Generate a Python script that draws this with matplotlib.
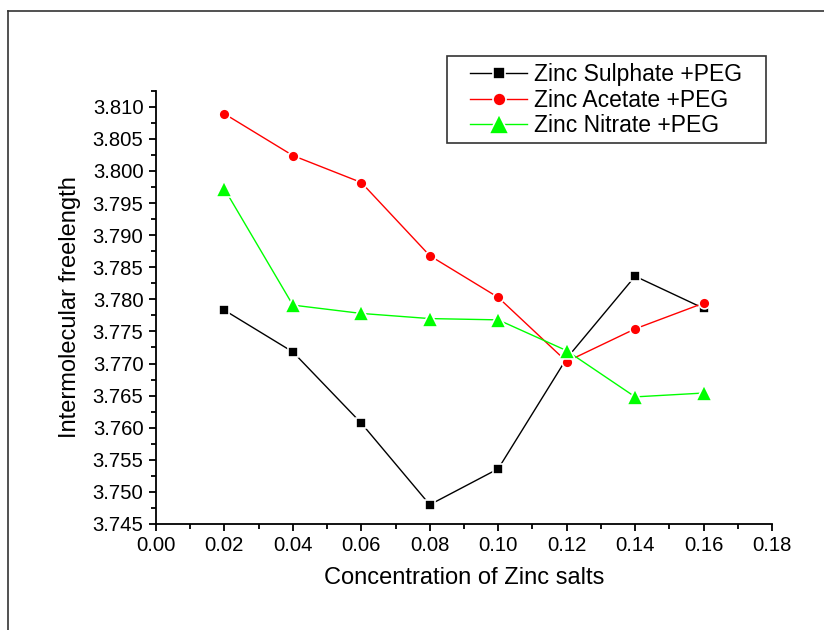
import matplotlib
matplotlib.use("Agg")
import matplotlib.pyplot as plt
from matplotlib.lines import Line2D
from matplotlib.patches import Rectangle
from matplotlib.ticker import MultipleLocator, FormatStrFormatter

plt.rcParams['font.family'] = ['Liberation Sans', 'DejaVu Sans']

conc = [0.02, 0.04, 0.06, 0.08, 0.10, 0.12, 0.14, 0.16]
sulphate = [3.7783, 3.7718, 3.7607, 3.7480, 3.7536, 3.7708, 3.7836, 3.7786]
acetate = [3.8089, 3.8024, 3.7982, 3.7868, 3.7803, 3.7703, 3.7754, 3.7794]
nitrate = [3.7972, 3.7791, 3.7778, 3.7770, 3.7768, 3.7720, 3.7648, 3.7654]
labels = ["Zinc Sulphate +PEG", "Zinc Acetate +PEG", "Zinc Nitrate +PEG"]

W, H = 824, 630
fig = plt.figure(figsize=(W/100, H/100), dpi=100)
ax = fig.add_axes([0.1893, 0.1683, 0.7476, 0.6877])

ax.plot(conc, sulphate, color='black', lw=1, marker='s', ms=6.8,
        mfc='black', mec='white', mew=1.2, label=labels[0])
ax.plot(conc, acetate, color='#ff0000', lw=1, marker='o', ms=7.8,
        mfc='#ff0000', mec='white', mew=1.2, label=labels[1])
ax.plot(conc, nitrate, color='#00ff00', lw=1, marker='^', ms=11.5,
        mfc='#00ff00', mec='white', mew=1.2, label=labels[2])

ax.set_xlim(0, 0.18)
ax.set_ylim(3.745, 3.8125)
ax.xaxis.set_major_locator(MultipleLocator(0.02))
ax.xaxis.set_minor_locator(MultipleLocator(0.01))
ax.yaxis.set_major_locator(MultipleLocator(0.005))
ax.yaxis.set_minor_locator(MultipleLocator(0.0025))
ax.xaxis.set_major_formatter(FormatStrFormatter('%.2f'))
ax.yaxis.set_major_formatter(FormatStrFormatter('%.3f'))

for s in ['top', 'right']:
    ax.spines[s].set_visible(False)
for s in ['left', 'bottom']:
    ax.spines[s].set_linewidth(1.3)
ax.tick_params(which='major', direction='out', length=5, width=1.3,
               labelsize=14.6, pad=4)
ax.tick_params(which='minor', direction='out', length=3.5, width=1.3)

ax.set_xlabel("Concentration of Zinc salts", fontsize=17, labelpad=8)
ax.set_ylabel("Intermolecular freelength", fontsize=17, labelpad=8)

leg = ax.legend(loc='upper left', bbox_to_anchor=(470/W, 1-63/H),
                bbox_transform=fig.transFigure, fontsize=16.5, frameon=False,
                handlelength=2.5, handletextpad=0.3, borderpad=0,
                labelspacing=0.11, borderaxespad=0, markerscale=1.2)

# legend frame
fig.add_artist(Rectangle((447/W, 1-143/H), (766-447)/W, (143-56)/H,
                         transform=fig.transFigure, fill=False,
                         edgecolor='#333333', lw=1.2))

# outer frame
fig.add_artist(Line2D([8/W, 8/W], [0, 1-11/H], transform=fig.transFigure,
                      color='#333333', lw=1.2))
fig.add_artist(Line2D([8/W, 1], [1-11/H, 1-11/H], transform=fig.transFigure,
                      color='#333333', lw=1.2))

fig.savefig("out.png", dpi=100)
